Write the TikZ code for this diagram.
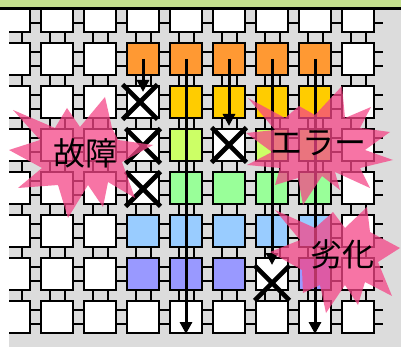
\documentclass[tikz,border=0pt]{standalone}
\usepackage{fontspec}
\newfontfamily\jpfont{Noto Sans CJK JP}
\usetikzlibrary{arrows.meta}
\definecolor{bandgreen}{RGB}{197,224,143}
\definecolor{bggrey}{RGB}{220,220,220}
\definecolor{corange}{RGB}{255,153,51}
\definecolor{cyellow}{RGB}{255,204,0}
\definecolor{cyg}{RGB}{204,255,102}
\definecolor{cgreen}{RGB}{153,255,153}
\definecolor{cblue}{RGB}{153,204,255}
\definecolor{cpurple}{RGB}{153,153,255}
\definecolor{burstpink}{RGB}{245,70,135}
\tikzset{
  tile/.style={draw=black, line width=2pt, minimum size=32pt, inner sep=0pt, outer sep=0pt, rectangle},
  stub/.style={draw=black, line width=2pt},
  flow/.style={draw=black, line width=3pt, -{Triangle[width=12pt,length=12pt]}},
  xmark/.style={draw=black, line width=4.6pt, shorten >=-2pt, shorten <=-2pt},
  burst/.style={fill=burstpink, fill opacity=0.75},
  lbl/.style={font=\jpfont\fontsize{32}{32}\selectfont, text=black, inner sep=0pt},
}
\begin{document}
\begin{tikzpicture}[x=1pt,y=-1pt]
\useasboundingbox (0,0) rectangle (401,347);
\fill[white] (0,0) rectangle (401,347);
\fill[bggrey] (9,10) rectangle (401,347);
\begin{scope}
\clip (9,10) rectangle (401,347);
% tiles
\foreach \row [count=\j from 0] in {
 {white,white,white,white,white,white,white,white,white},
 {white,white,white,corange,corange,corange,corange,corange,white},
 {white,white,white,white,cyellow,cyellow,cyellow,cyellow,white},
 {white,white,white,white,cyg,white,cyg,cyg,white},
 {white,white,white,white,cgreen,cgreen,cgreen,cgreen,white},
 {white,white,white,cblue,cblue,cblue,cblue,cblue,white},
 {white,white,white,cpurple,cpurple,cpurple,white,cpurple,white},
 {white,white,white,white,white,white,white,white,white}}{
  \foreach \c [count=\i from 0] in \row {
    \node[tile, fill=\c] (t-\i-\j) at ({14+43*\i},{16+43*\j}) {};
  }
}
% horizontal links
\foreach \i [evaluate=\i as \k using int(\i+1)] in {0,...,7}{
  \foreach \j in {0,...,7}{
    \draw[stub] ([yshift=7pt]t-\i-\j.east) -- ([yshift=7pt]t-\k-\j.west);
    \draw[stub] ([yshift=-7pt]t-\i-\j.east) -- ([yshift=-7pt]t-\k-\j.west);
  }
}
\foreach \j in {0,...,7}{
  \draw[stub] ([yshift=7pt]t-8-\j.east) -- ++(9,0);
  \draw[stub] ([yshift=-7pt]t-8-\j.east) -- ++(9,0);
}
% vertical links
\foreach \j [evaluate=\j as \k using int(\j+1)] in {0,...,6}{
  \foreach \i in {0,...,8}{
    \draw[stub] ([xshift=-7.5pt]t-\i-\j.south) -- ([xshift=-7.5pt]t-\i-\k.north);
    \draw[stub] ([xshift=8pt]t-\i-\j.south) -- ([xshift=8pt]t-\i-\k.north);
  }
}
% flows
\coordinate (e3) at (143,92);
\coordinate (e4) at (186,334);
\coordinate (e5) at (229,126);
\coordinate (e6) at (272,265);
\coordinate (e7) at (315,334);
\foreach \i in {3,...,7} \draw[flow] (t-\i-1.center) -- (e\i);
% failures
\foreach \i/\j/\dx/\dy in {3/2/-3/0, 3/3/0/1, 3/4/0/1, 5/3/0/0, 6/6/0/9}{
  \draw[xmark] ([shift={(\dx,\dy)}]t-\i-\j.north west) -- ([shift={(\dx,\dy)}]t-\i-\j.south east);
  \draw[xmark] ([shift={(\dx,\dy)}]t-\i-\j.north east) -- ([shift={(\dx,\dy)}]t-\i-\j.south west);
}
% bursts
\fill[burst] (13,110) -- (55,128) -- (67,108) -- (80,127) -- (105,97) -- (112,128)
  -- (118,140) -- (153,145) -- (122,162) -- (135,198) -- (108,182) -- (103,207)
  -- (88,185) -- (68,218) -- (58,185) -- (18,188) -- (42,168) -- (9,150) -- (40,140) -- cycle;
\fill[burst] (248,98) -- (285,118) -- (299,106) -- (315,115) -- (342,86) -- (345,118)
  -- (371,107) -- (360,128) -- (390,132) -- (365,150) -- (393,160) -- (360,168)
  -- (370,188) -- (335,172) -- (340,190) -- (322,176) -- (303,205) -- (298,178)
  -- (275,185) -- (280,168) -- (247,165) -- (272,152) -- (246,133) -- (275,130) -- cycle;
\fill[burst] (275,210) -- (315,228) -- (333,212) -- (345,228) -- (367,207) -- (370,232)
  -- (400,248) -- (378,262) -- (392,296) -- (365,282) -- (358,305) -- (345,285)
  -- (326,313) -- (320,285) -- (303,293) -- (302,270) -- (270,252) -- (300,240) -- cycle;
\node[lbl] (koshou) at (85,153) {故障};
\node[lbl] (error) at (318,143) {エラー};
\node[lbl] (rekka) at (342,254) {劣化};
\end{scope}
\fill[bandgreen] (0,0) rectangle (401,7.3);
\fill[black] (0,7.3) rectangle (401,10);
\end{tikzpicture}
\end{document}
